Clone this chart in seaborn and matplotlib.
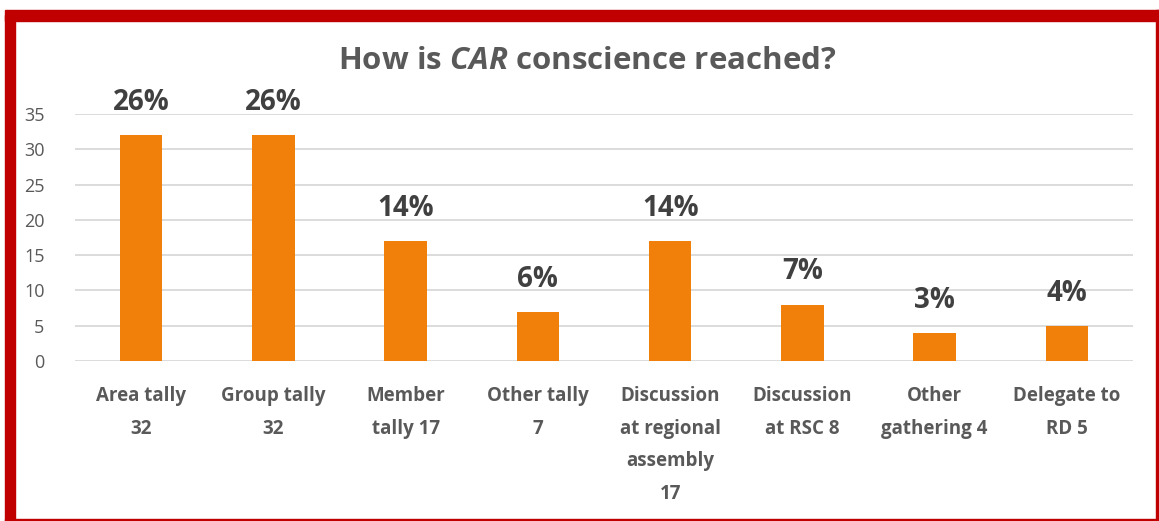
import matplotlib
matplotlib.use("Agg")
import matplotlib.pyplot as plt
import matplotlib.patches as mpatches
import seaborn as sns
import pandas as pd

categories = ["Area tally\n32", "Group tally\n32", "Member\ntally 17", "Other tally\n7",
              "Discussion\nat regional\nassembly\n17", "Discussion\nat RSC 8",
              "Other\ngathering 4", "Delegate to\nRD 5"]
counts = [32, 32, 17, 7, 17, 8, 4, 5]
percent_labels = ["26%", "26%", "14%", "6%", "14%", "7%", "3%", "4%"]
yticks = [0, 5, 10, 15, 20, 25, 30, 35]

FONT = 'Open Sans'
sns.set_style("white")
plt.rcParams['font.family'] = [FONT, 'DejaVu Sans']
plt.rcParams['mathtext.fontset'] = 'custom'
plt.rcParams['mathtext.it'] = FONT + ':italic:bold'
plt.rcParams['mathtext.rm'] = FONT + ':bold'
plt.rcParams['mathtext.bf'] = FONT + ':bold'

W, H = 1159, 521
fig = plt.figure(figsize=(W / 100, H / 100), dpi=100)
ax = fig.add_axes([75 / W, 1 - 361 / H, (1133 - 75) / W, (361 - 114) / H])

df = pd.DataFrame({"cat": categories, "val": counts})
sns.barplot(data=df, x="cat", y="val", ax=ax, color="#F0800A", width=0.32,
            saturation=1, edgecolor="none")

ax.set_ylim(0, 35)
ax.set_yticks(yticks)
ax.set_yticklabels([str(t) for t in yticks], fontsize=13, color="#595959")
ax.yaxis.grid(True, color="#D9D9D9", linewidth=1.3)
ax.set_axisbelow(True)
for s in ax.spines.values():
    s.set_visible(False)
ax.set_xlabel("")
ax.set_ylabel("")
ax.tick_params(axis="y", length=0, pad=22)
ax.tick_params(axis="x", length=0, pad=18)
ax.set_xticks(range(len(categories)))
ax.set_xticklabels(categories, fontsize=13.5, fontweight="bold", color="#595959",
                   linespacing=1.84, va="top")

for i, (v, p) in enumerate(zip(counts, percent_labels)):
    ax.annotate(p, (i, v), xytext=(0, 13), textcoords="offset points",
                ha="center", va="bottom", fontsize=20, fontweight="bold",
                color="#404040", annotation_clip=False)

fig.text(587 / W, 1 - 61 / H, "How is $\\it{CAR}$ conscience reached?", ha="center",
         va="center", fontsize=22.5, fontweight="bold", color="#595959")

# frame
red = "#C00000"
fig.patches.append(mpatches.Rectangle((5 / W, 0), 10 / W, (521 - 15) / H,
                   transform=fig.transFigure, color=red))
fig.patches.append(mpatches.Rectangle((5 / W, 1 - 21 / H), (1159 - 5) / W, 11 / H,
                   transform=fig.transFigure, color=red))
fig.patches.append(mpatches.Rectangle((1156 / W, 0), 3 / W, (521 - 10) / H,
                   transform=fig.transFigure, color=red))
fig.patches.append(mpatches.Rectangle((5 / W, 0), (1159 - 5) / W, 2 / H,
                   transform=fig.transFigure, color=red))

fig.savefig("out.png", dpi=100)
